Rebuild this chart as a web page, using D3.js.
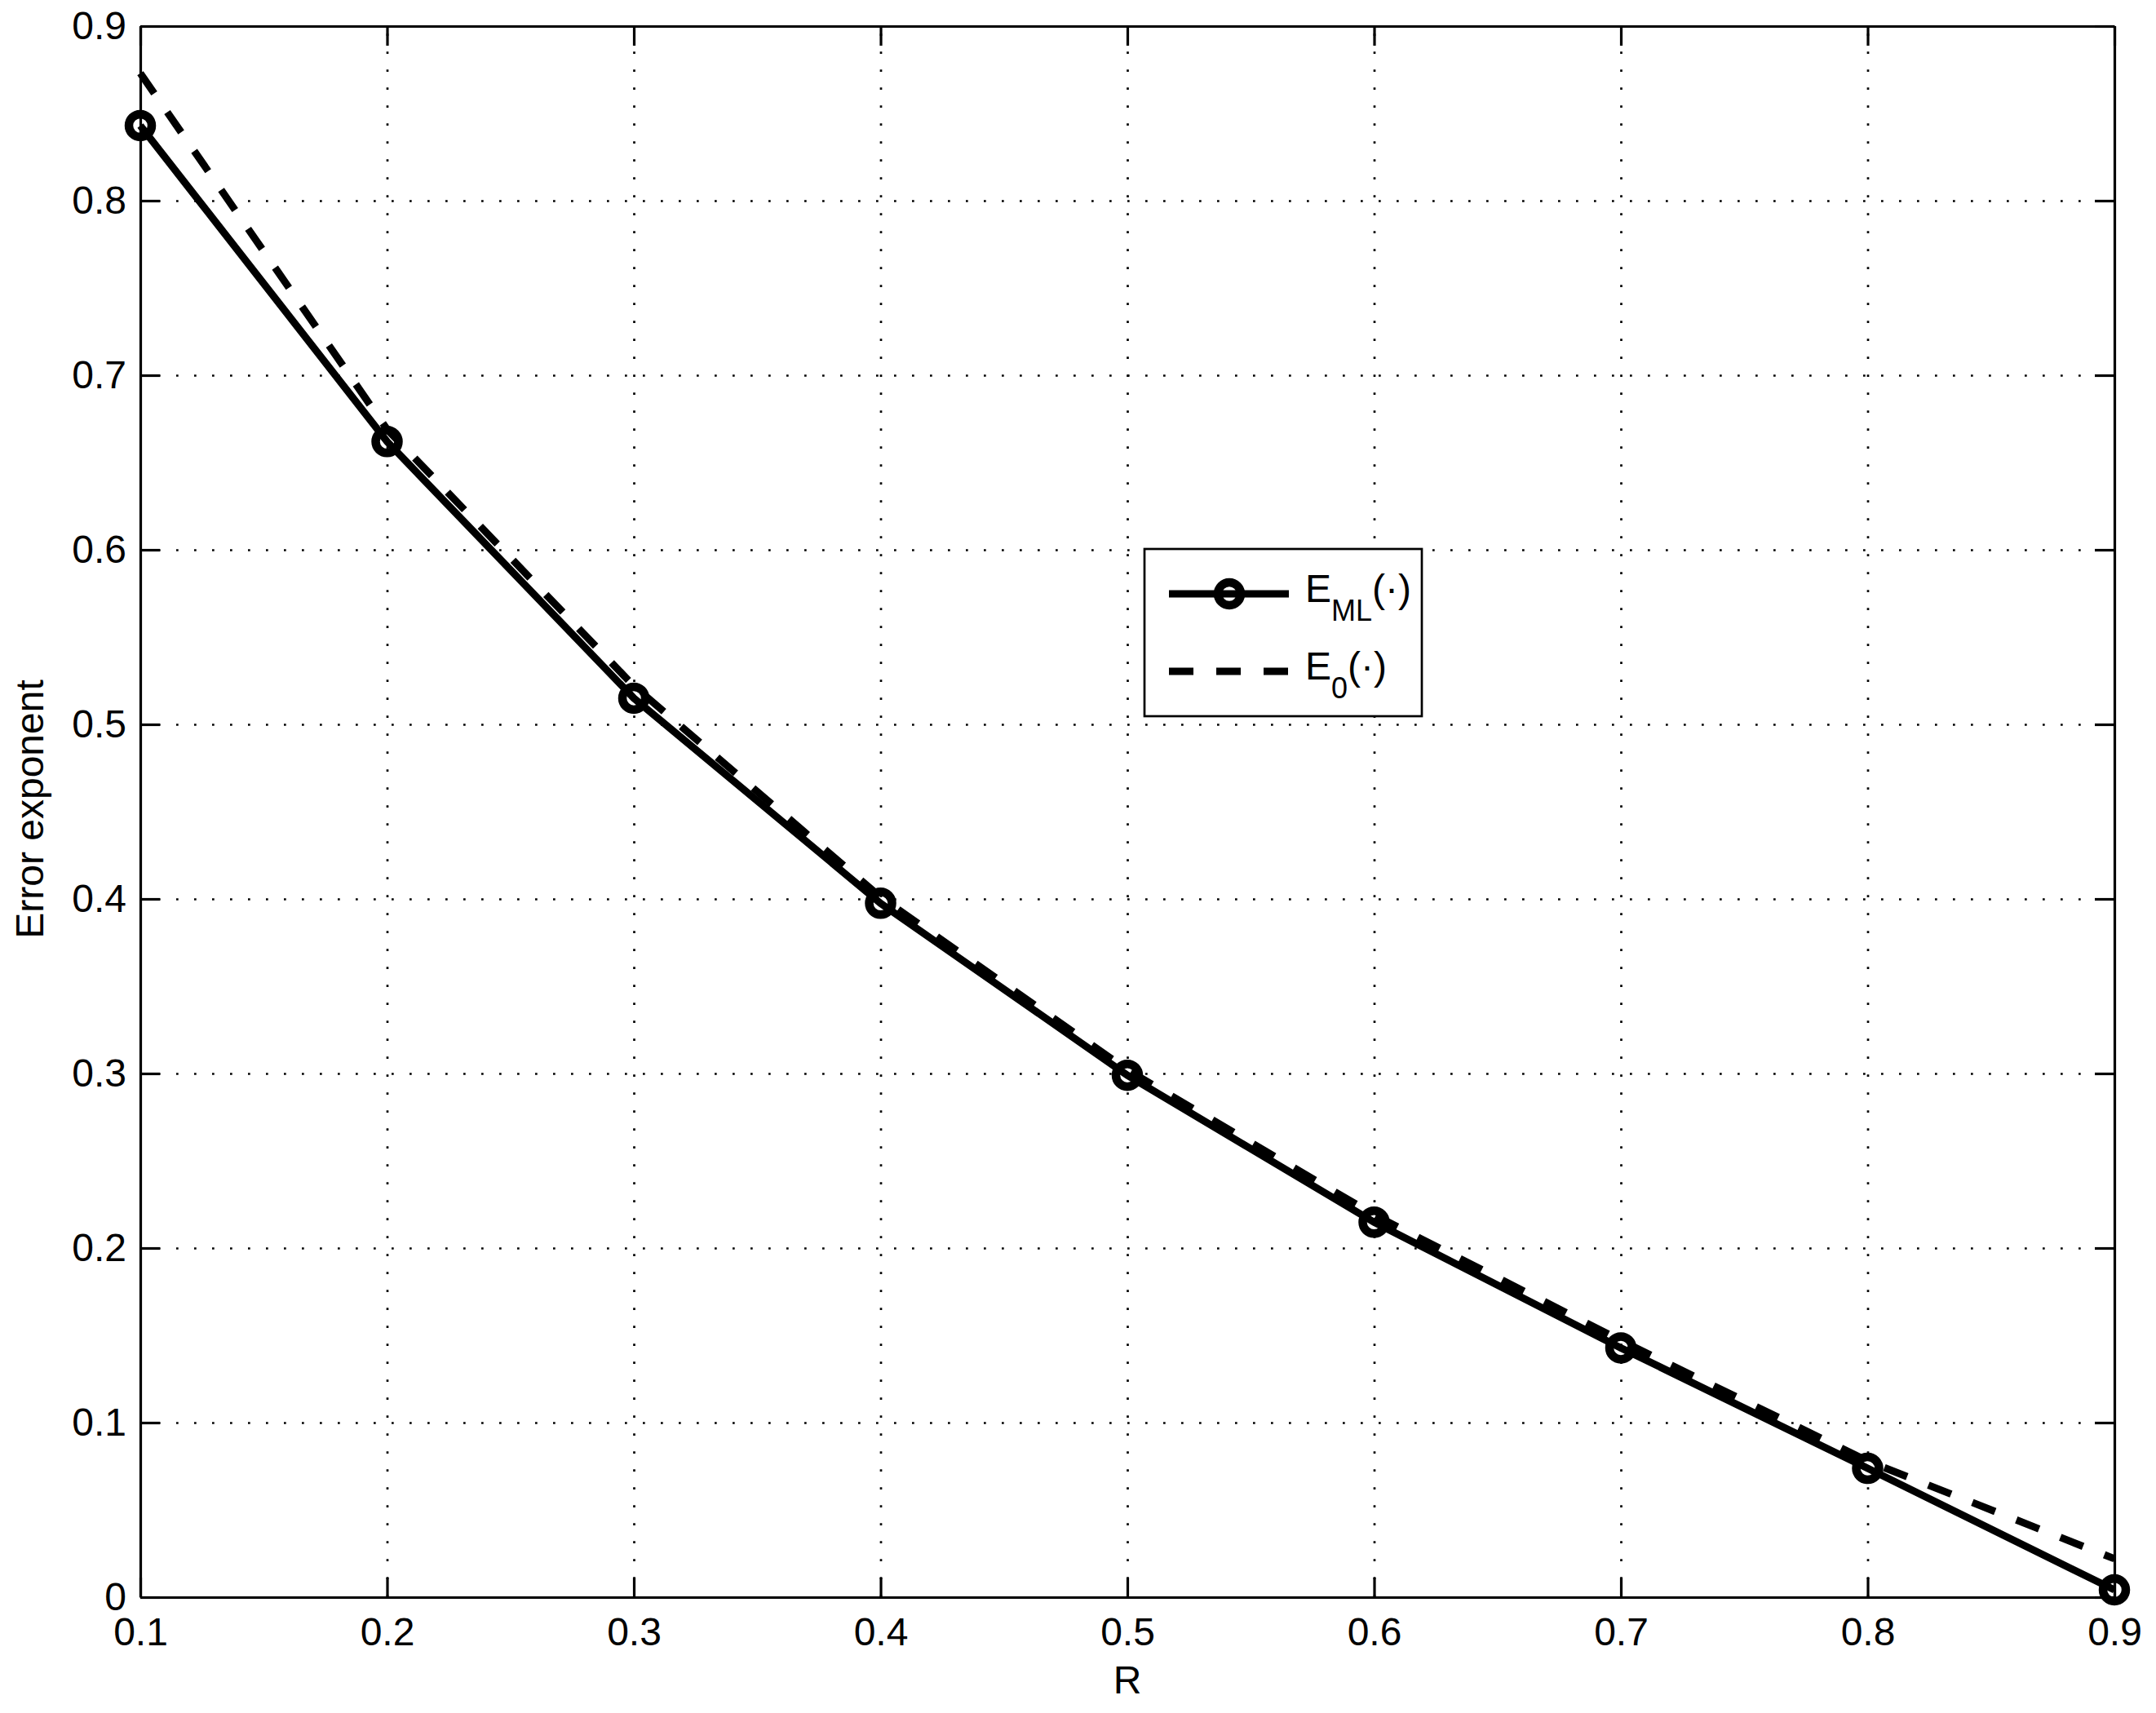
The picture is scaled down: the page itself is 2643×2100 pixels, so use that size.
<!DOCTYPE html>
<html>
<head>
<meta charset="utf-8">
<script src="https://cdn.jsdelivr.net/npm/d3@7"></script>
<style>
  body { margin: 0; background: #fff; }
  text { font-family: 'Liberation Sans', Arial, sans-serif; fill: #000; }
</style>
</head>
<body>
<div id="chart"></div>
<script>
// values
const rates = [0.1, 0.2, 0.3, 0.4, 0.5, 0.6, 0.7, 0.8, 0.9]
const eML = [0.843, 0.662, 0.515, 0.3975, 0.299, 0.2148, 0.1428, 0.0738, 0.0042]
const e0 = [0.873, 0.669, 0.522, 0.401, 0.302, 0.219, 0.147, 0.078, 0.022]
const xTicks = [0.1, 0.2, 0.3, 0.4, 0.5, 0.6, 0.7, 0.8, 0.9]
const yTicks = [0, 0.1, 0.2, 0.3, 0.4, 0.5, 0.6, 0.7, 0.8, 0.9]

const margin = {
  top: 32,
  right: 51,
  bottom: 142,
  left: 172
}

const width = 2643 - margin.left - margin.right
const height = 2100 - margin.top - margin.bottom

const svg = d3
  .select('#chart')
  .append('svg')
  .attr('width', width + margin.left + margin.right)
  .attr('height', height + margin.top + margin.bottom)
  .append('g')
  .attr('transform', 'translate(' + margin.left + ',' + margin.top + ')')

const xPositionScale = d3.scaleLinear().domain([0.1, 0.9]).range([0, width])
const yPositionScale = d3.scaleLinear().domain([0, 0.9]).range([height, 0])

const fmt = d => (d === 0 ? '0' : d3.format('.1f')(d))

// dotted grid
svg
  .append('g')
  .attr('class', 'grid x-grid')
  .attr('transform', 'translate(0,' + height + ')')
  .call(d3.axisBottom(xPositionScale).tickValues(xTicks).tickSize(-height).tickFormat(''))
  .call(g => g.select('.domain').remove())
svg
  .append('g')
  .attr('class', 'grid y-grid')
  .call(d3.axisLeft(yPositionScale).tickValues(yTicks).tickSize(-width).tickFormat(''))
  .call(g => g.select('.domain').remove())
svg
  .selectAll('.grid line')
  .attr('stroke', '#000')
  .attr('stroke-width', 2.7)
  .attr('stroke-dasharray', '2.7,19.3')

// axes, ticks pointing inward on all four sides
const xAxis = d3
  .axisBottom(xPositionScale)
  .tickValues(xTicks)
  .tickSize(-24)
  .tickSizeOuter(0)
  .tickPadding(25)
  .tickFormat(fmt)
const yAxis = d3
  .axisLeft(yPositionScale)
  .tickValues(yTicks)
  .tickSize(-24)
  .tickSizeOuter(0)
  .tickPadding(17)
  .tickFormat(fmt)

svg
  .append('g')
  .attr('class', 'axis x-axis')
  .attr('transform', 'translate(0,' + height + ')')
  .call(xAxis)
svg
  .append('g')
  .attr('class', 'axis y-axis')
  .call(yAxis)
svg
  .append('g')
  .attr('class', 'axis top-axis')
  .call(d3.axisTop(xPositionScale).tickValues(xTicks).tickSize(-24).tickSizeOuter(0).tickFormat(''))
svg
  .append('g')
  .attr('class', 'axis right-axis')
  .attr('transform', 'translate(' + width + ',0)')
  .call(d3.axisRight(yPositionScale).tickValues(yTicks).tickSize(-24).tickSizeOuter(0).tickFormat(''))

svg.selectAll('.axis .domain').attr('stroke', '#000').attr('stroke-width', 3.2)
svg.selectAll('.axis .tick line').attr('stroke', '#000').attr('stroke-width', 3.2)
svg
  .selectAll('.axis text')
  .attr('font-size', 48)
  .attr('font-family', "'Liberation Sans', Arial, sans-serif")
  .attr('fill', '#000')

// axis titles
svg
  .append('text')
  .attr('text-anchor', 'middle')
  .attr('font-size', 48)
  .attr('x', xPositionScale(0.5))
  .attr('y', height + 118)
  .text('R')

svg
  .append('text')
  .attr('text-anchor', 'middle')
  .attr('font-size', 48)
  .attr('transform', 'translate(' + (53 - margin.left) + ',' + (992 - margin.top) + ') rotate(-90)')
  .text('Error exponent')

// series
const mlPoints = rates.map((r, i) => ({ r: r, v: eML[i] }))
const e0Points = rates.map((r, i) => ({ r: r, v: e0[i] }))

const line = d3
  .line()
  .x(d => xPositionScale(d.r))
  .y(d => yPositionScale(d.v))

svg
  .append('path')
  .datum(mlPoints)
  .attr('d', line)
  .attr('fill', 'none')
  .attr('stroke', '#000')
  .attr('stroke-width', 9)

svg
  .selectAll('.marker')
  .data(mlPoints)
  .enter()
  .append('circle')
  .attr('class', 'marker')
  .attr('cx', d => xPositionScale(d.r))
  .attr('cy', d => yPositionScale(d.v))
  .attr('r', 14)
  .attr('fill', 'none')
  .attr('stroke', '#000')
  .attr('stroke-width', 10.5)

svg
  .append('path')
  .datum(e0Points)
  .attr('d', line)
  .attr('fill', 'none')
  .attr('stroke', '#000')
  .attr('stroke-width', 9)
  .attr('stroke-dasharray', '30,28')

// legend
const legend = svg
  .append('g')
  .attr('transform', 'translate(' + (1403 - margin.left) + ',' + (673 - margin.top) + ')')

legend
  .append('rect')
  .attr('width', 340)
  .attr('height', 205)
  .attr('fill', '#fff')
  .attr('stroke', '#000')
  .attr('stroke-width', 2.7)

legend
  .append('line')
  .attr('x1', 30)
  .attr('x2', 177)
  .attr('y1', 55)
  .attr('y2', 55)
  .attr('stroke', '#000')
  .attr('stroke-width', 9)
legend
  .append('circle')
  .attr('cx', 104)
  .attr('cy', 55)
  .attr('r', 14)
  .attr('fill', 'none')
  .attr('stroke', '#000')
  .attr('stroke-width', 10.5)
legend
  .append('line')
  .attr('x1', 30)
  .attr('x2', 177)
  .attr('y1', 150)
  .attr('y2', 150)
  .attr('stroke', '#000')
  .attr('stroke-width', 9)
  .attr('stroke-dasharray', '30,28')

const labels = [
  { sub: 'ML', y: 65 },
  { sub: '0', y: 160 }
]

labels.forEach(d => {
  const t = legend
    .append('text')
    .attr('x', 197)
    .attr('y', d.y)
    .attr('font-size', 48)
  t.append('tspan').text('E')
  t.append('tspan').attr('dy', 23).attr('font-size', 36).text(d.sub)
  t.append('tspan').attr('dy', -23).text('(\u00b7)')
})
</script>
</body>
</html>
